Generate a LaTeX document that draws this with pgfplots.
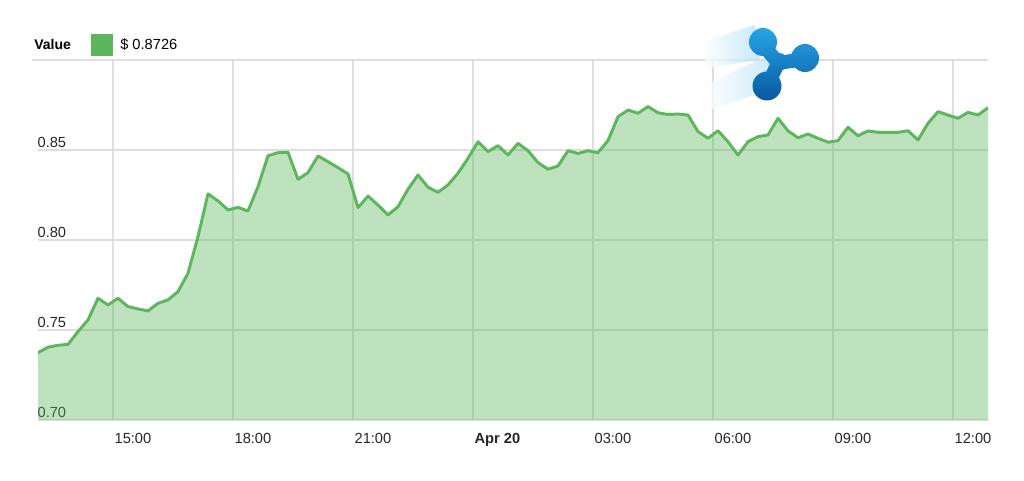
\documentclass[border=0pt]{standalone}
\usepackage{fontspec}
\setmainfont{Liberation Sans}
\usepackage{pgfplots}
\usepackage{pgfplotstable}
\pgfplotsset{compat=1.18}

\definecolor{xrpgreen}{RGB}{92,182,92}
\definecolor{gridgray}{RGB}{222,222,222}
\definecolor{logolight}{RGB}{38,165,228}
\definecolor{logodark}{RGB}{8,88,160}

% XRP price, 15 min steps; t = hours since 00:00 Apr 19
\pgfplotstableread{
t v
13.125 0.7374
13.375 0.7404
13.625 0.7415
13.875 0.7420
14.125 0.7491
14.375 0.7556
14.625 0.7676
14.875 0.7639
15.125 0.7676
15.375 0.7630
15.625 0.7617
15.875 0.7606
16.125 0.7648
16.375 0.7667
16.625 0.7713
16.875 0.7815
17.125 0.8019
17.375 0.8256
17.625 0.8217
17.875 0.8167
18.125 0.8181
18.375 0.8161
18.625 0.8296
18.875 0.8468
19.125 0.8485
19.375 0.8487
19.625 0.8337
19.875 0.8374
20.125 0.8467
20.375 0.8435
20.625 0.8402
20.875 0.8367
21.125 0.8180
21.375 0.8244
21.625 0.8194
21.875 0.8139
22.125 0.8185
22.375 0.8282
22.625 0.8361
22.875 0.8293
23.125 0.8265
23.375 0.8306
23.625 0.8371
23.875 0.8454
24.125 0.8546
24.375 0.8491
24.625 0.8524
24.875 0.8472
25.125 0.8537
25.375 0.8496
25.625 0.8430
25.875 0.8393
26.125 0.8411
26.375 0.8496
26.625 0.8481
26.875 0.8496
27.125 0.8485
27.375 0.8552
27.625 0.8685
27.875 0.8722
28.125 0.8704
28.375 0.8741
28.625 0.8707
28.875 0.8697
29.125 0.8700
29.375 0.8694
29.625 0.8602
29.875 0.8565
30.125 0.8607
30.375 0.8546
30.625 0.8472
30.875 0.8546
31.125 0.8574
31.375 0.8583
31.625 0.8676
31.875 0.8606
32.125 0.8568
32.375 0.8589
32.625 0.8565
32.875 0.8543
33.125 0.8552
33.375 0.8626
33.625 0.8579
33.875 0.8606
34.125 0.8598
34.375 0.8598
34.625 0.8598
34.875 0.8607
35.125 0.8556
35.375 0.8648
35.625 0.8713
35.875 0.8694
36.125 0.8676
36.375 0.8709
36.625 0.8694
36.875 0.8735
}\xrpdata

\begin{document}
\begin{tikzpicture}
\begin{axis}[
    scale only axis,
    width=712.5pt, height=270pt,
    xmin=13.125, xmax=36.875,
    ymin=0.70, ymax=0.90,
    xtick={15,18,21,24,27,30,33,36},
    xticklabels={15:00,18:00,21:00,\textbf{Apr 20},03:00,06:00,09:00,12:00},
    ytick={0.70,0.75,0.80,0.85},
    yticklabels={0.70,0.75,0.80,0.85},
    extra y ticks={0.90},
    extra y tick labels={},
    extra tick style={grid=major},
    xmajorgrids, ymajorgrids,
    major grid style={gridgray, line width=0.9pt},
    axis line style={draw=none},
    tick style={draw=none},
    major tick length=0pt,
    tick label style={font=\fontsize{11}{13}\selectfont, text=black!85},
    xticklabel style={anchor=north west, inner sep=0pt, xshift=1pt, yshift=-9.5pt},
    yticklabel style={anchor=south west, inner sep=0pt, xshift=-0.5pt, yshift=1.6pt},
    /pgf/number format/assume math mode=true,
    clip=true,
]
\addplot[draw=none, fill=xrpgreen, fill opacity=0.4] table[x=t, y=v] {\xrpdata} \closedcycle;
\addplot[xrpgreen, line width=2.2pt, line join=round] table[x=t, y=v] {\xrpdata};
\end{axis}

% image frame in pixel units, origin at the top left, y downwards
\coordinate (img) at ([xshift=-28.5pt, yshift=315pt]current axis.south west);
\begin{scope}[shift={(img)}, x=0.75pt, y=-0.75pt]
  % top grid line runs a little past the plot on the left
  \draw[gridgray, line width=0.9pt] (32,60) -- (38,60);
  % legend
  \node[anchor=west, inner sep=0pt, font=\bfseries\fontsize{10.5}{12}\selectfont] at (34,45) {Value};
  \fill[xrpgreen] (91,34) rectangle (113,56);
  \node[anchor=west, inner sep=0pt, font=\fontsize{11}{13}\selectfont] at (120,45) {\$ 0.8726};
  % motion trails
  \shade[left color=white, right color=logolight!35!white, opacity=0.75]
    (702,42) -- (755,25) -- (760,60) -- (706,68) -- cycle;
  \shade[left color=white, right color=logolight!35!white, opacity=0.75]
    (704,86) -- (772,53) -- (780,86) -- (710,110) -- cycle;
  % logo
  \shade[top color=logolight, bottom color=logodark]
    (763,42) circle[radius=14]
    (805,58) circle[radius=14]
    (767,86) circle[radius=14.5]
    (779,62) circle[radius=9]
    (766.46,37.59) -- (783.46,58.59) -- (772.54,67.41) -- (755.54,46.41) -- cycle
    (806.02,65.93) -- (779.02,69.93) -- (776.98,56.07) -- (803.98,52.07) -- cycle
    (760.64,84.08) -- (771.64,60.08) -- (784.36,65.92) -- (773.36,89.92) -- cycle;
\end{scope}
\pgfresetboundingbox
\path (img) rectangle ([xshift=768pt, yshift=-360.75pt]img);
\end{tikzpicture}
\end{document}
